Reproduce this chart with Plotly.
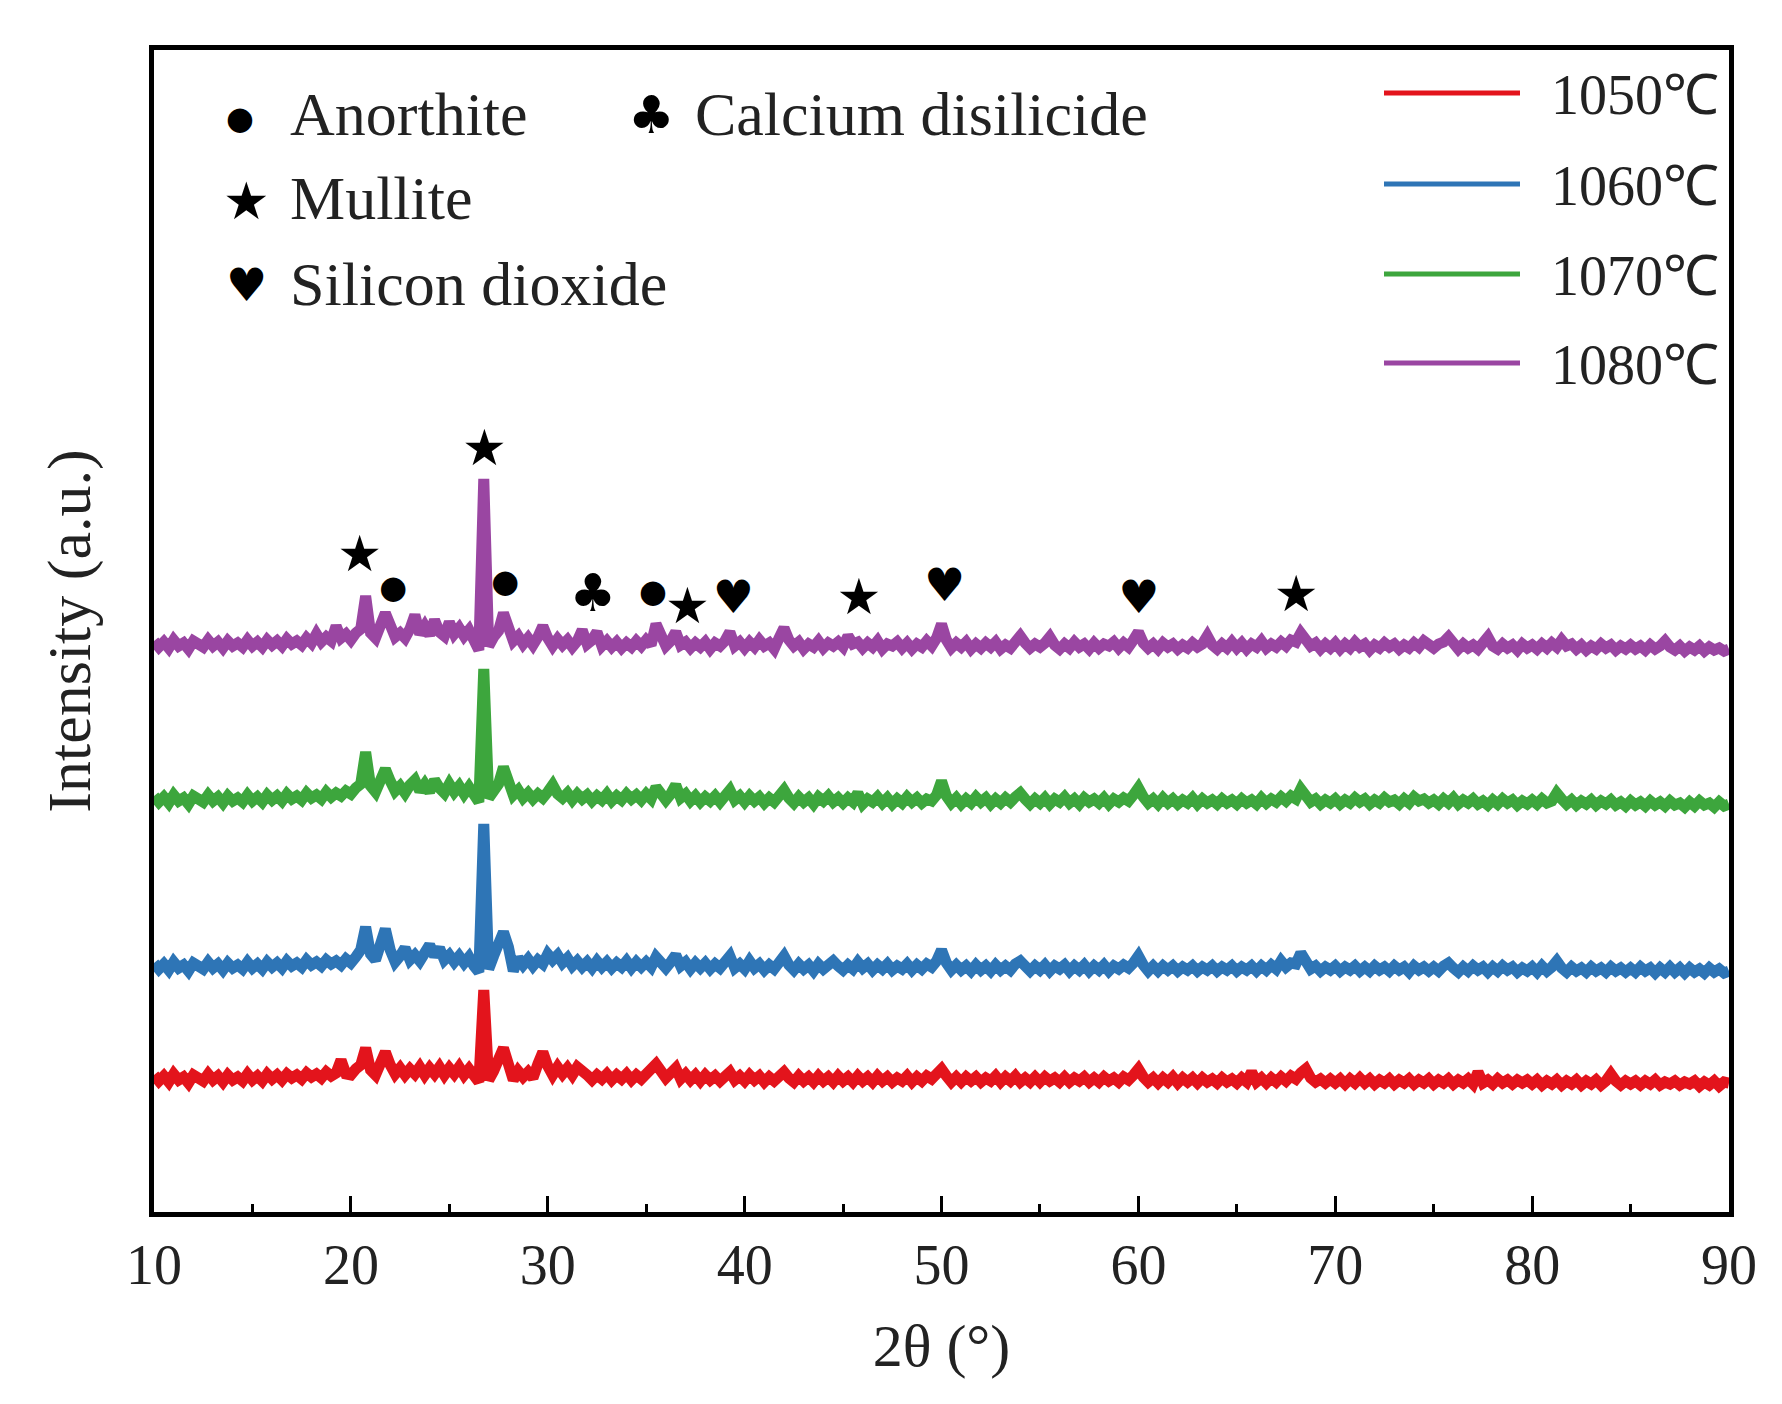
import numpy as np
import plotly.graph_objects as go

# 2-theta scan grid (0.25 deg step, 10..90)
two_theta = np.arange(10.0, 90.0001, 0.25)

series_names = ["1050℃", "1060℃", "1070℃", "1080℃"]
series_colors = ["#e3141c", "#2e75b6", "#3da63d", "#9a46a2"]

i_1050 = [
    137, 131, 136, 130, 138, 132, 135, 129, 137, 133, 131, 138, 132, 136, 130, 137, 132, 135, 131, 138,
    132, 136, 131, 138, 133, 137, 132, 138, 134, 137, 133, 139, 135, 138, 134, 140, 136, 139, 152, 138,
    137, 143, 147, 164, 142, 137, 146, 160, 147, 138, 144, 137, 143, 138, 145, 137, 144, 138, 145, 137,
    144, 138, 145, 137, 143, 137, 130, 222, 132, 141, 150, 164, 148, 132, 141, 135, 140, 134, 148, 160,
    146, 137, 145, 138, 144, 137, 145, 139, 137, 132, 137, 133, 138, 132, 137, 133, 138, 132, 137, 133,
    138, 140, 148, 141, 134, 139, 144, 133, 138, 132, 137, 131, 137, 132, 136, 131, 136, 140, 132, 136,
    131, 137, 132, 136, 130, 135, 131, 137, 140, 134, 130, 136, 131, 135, 130, 136, 131, 135, 130, 136,
    131, 135, 130, 136, 131, 135, 130, 136, 131, 135, 130, 134, 131, 136, 130, 135, 131, 136, 133, 138,
    143, 136, 130, 135, 130, 135, 131, 135, 130, 134, 131, 136, 130, 135, 131, 136, 130, 134, 130, 135,
    130, 135, 131, 134, 130, 135, 130, 134, 131, 135, 130, 134, 130, 135, 131, 134, 130, 135, 132, 137,
    143, 135, 130, 134, 129, 134, 130, 135, 129, 134, 130, 134, 129, 134, 130, 133, 129, 134, 130, 133,
    129, 134, 130, 140, 130, 134, 129, 134, 130, 135, 131, 136, 133, 139, 143, 134, 130, 133, 129, 133,
    129, 133, 128, 133, 129, 134, 129, 133, 128, 132, 129, 133, 128, 132, 129, 133, 128, 132, 129, 133,
    128, 132, 129, 133, 128, 132, 129, 133, 128, 140, 129, 132, 128, 133, 129, 132, 128, 132, 129, 132,
    128, 132, 127, 131, 128, 132, 127, 131, 128, 132, 127, 131, 128, 132, 127, 131, 138, 131, 127, 131,
    128, 131, 127, 131, 128, 132, 127, 130, 128, 131, 127, 130, 128, 131, 126, 130, 127, 131, 126, 130,
    129,
]

i_1060 = [
    249, 243, 248, 242, 250, 244, 247, 241, 249, 245, 243, 250, 244, 248, 242, 249, 244, 247, 243, 250,
    244, 248, 243, 250, 245, 249, 244, 251, 246, 249, 245, 252, 247, 250, 246, 252, 248, 251, 247, 253,
    249, 255, 262, 285, 258, 252, 265, 283, 262, 250, 256, 264, 252, 257, 251, 258, 267, 256, 264, 252,
    257, 250, 256, 249, 255, 246, 240, 388, 243, 256, 268, 280, 265, 241, 254, 247, 253, 246, 252, 248,
    258, 252, 257, 249, 254, 246, 251, 245, 250, 244, 251, 245, 250, 244, 249, 245, 251, 244, 250, 245,
    250, 245, 255, 248, 244, 250, 257, 246, 250, 243, 249, 244, 249, 243, 248, 244, 249, 256, 244, 248,
    243, 251, 244, 248, 242, 247, 243, 249, 256, 247, 242, 248, 243, 247, 241, 248, 243, 247, 251, 246,
    242, 247, 243, 250, 244, 248, 242, 247, 243, 248, 242, 246, 243, 248, 242, 247, 243, 248, 245, 251,
    262, 249, 242, 247, 242, 246, 241, 247, 242, 246, 241, 247, 242, 246, 242, 248, 251, 246, 241, 246,
    242, 247, 241, 246, 243, 247, 241, 246, 242, 247, 241, 246, 242, 247, 241, 246, 243, 247, 244, 249,
    256, 247, 241, 246, 241, 246, 242, 246, 241, 245, 242, 246, 241, 245, 242, 246, 241, 245, 242, 246,
    241, 245, 242, 246, 241, 246, 242, 247, 243, 251, 245, 249, 248, 259, 249, 243, 246, 241, 245, 242,
    246, 241, 245, 242, 246, 241, 245, 241, 246, 242, 245, 241, 246, 242, 245, 240, 246, 242, 245, 241,
    245, 241, 246, 249, 244, 240, 245, 241, 246, 242, 245, 240, 245, 241, 246, 242, 245, 240, 244, 241,
    245, 240, 246, 241, 245, 251, 244, 240, 245, 241, 244, 240, 245, 241, 244, 240, 245, 241, 244, 240,
    244, 240, 245, 241, 244, 239, 244, 240, 245, 240, 244, 239, 244, 240, 243, 239, 244, 240, 243, 239,
    241,
]

i_1070 = [
    416, 410, 415, 409, 417, 411, 414, 408, 416, 412, 410, 417, 411, 415, 409, 416, 411, 414, 410, 417,
    411, 415, 410, 417, 412, 416, 411, 418, 413, 416, 412, 419, 414, 417, 413, 420, 415, 419, 416, 421,
    418, 424, 428, 460, 426, 420, 430, 443, 431, 421, 426, 419, 427, 432, 421, 428, 420, 432, 424, 419,
    428, 420, 426, 418, 425, 417, 410, 543, 414, 421, 428, 445, 427, 417, 422, 414, 419, 413, 418, 414,
    420, 427, 418, 414, 419, 412, 418, 413, 417, 411, 416, 412, 418, 411, 416, 412, 418, 413, 417, 412,
    418, 413, 425, 417, 412, 418, 427, 414, 418, 411, 416, 410, 415, 411, 416, 410, 415, 422, 412, 416,
    410, 416, 411, 415, 409, 414, 410, 416, 422, 414, 409, 415, 410, 414, 408, 415, 411, 416, 410, 414,
    409, 414, 410, 419, 408, 413, 410, 415, 409, 414, 408, 413, 409, 415, 410, 414, 409, 413, 411, 417,
    431, 416, 409, 414, 408, 413, 409, 415, 410, 414, 408, 413, 409, 414, 410, 415, 419, 413, 408, 413,
    409, 414, 408, 413, 410, 415, 409, 413, 408, 414, 410, 413, 409, 414, 408, 413, 410, 414, 411, 417,
    424, 415, 409, 413, 408, 414, 409, 413, 408, 412, 409, 414, 408, 413, 409, 412, 408, 413, 409, 412,
    408, 413, 409, 412, 408, 414, 409, 413, 410, 415, 411, 416, 413, 423, 415, 410, 413, 408, 412, 409,
    413, 408, 412, 409, 414, 410, 413, 408, 412, 409, 414, 410, 412, 408, 413, 409, 415, 411, 413, 409,
    412, 408, 413, 409, 414, 408, 412, 409, 413, 408, 411, 407, 412, 408, 413, 409, 412, 407, 411, 408,
    412, 408, 413, 409, 411, 419, 413, 408, 412, 407, 411, 408, 412, 407, 411, 408, 412, 407, 410, 406,
    411, 407, 410, 406, 411, 407, 410, 406, 411, 407, 409, 405, 410, 406, 411, 407, 409, 405, 410, 406,
    408,
]

i_1080 = [
    571, 565, 570, 564, 572, 566, 569, 563, 571, 567, 565, 572, 566, 570, 564, 571, 566, 569, 565, 572,
    566, 570, 565, 572, 567, 571, 566, 573, 568, 571, 567, 574, 569, 578, 570, 575, 571, 586, 574, 578,
    572, 579, 583, 616, 579, 574, 586, 599, 587, 575, 579, 574, 583, 597, 578, 586, 577, 592, 580, 576,
    590, 578, 584, 576, 582, 574, 562, 733, 566, 575, 581, 599, 580, 571, 576, 568, 574, 567, 575, 586,
    574, 566, 573, 567, 572, 565, 571, 582, 568, 572, 580, 566, 571, 565, 570, 564, 569, 565, 571, 566,
    572, 567, 588, 575, 566, 571, 580, 567, 570, 564, 569, 565, 570, 563, 569, 566, 571, 580, 566, 570,
    564, 570, 565, 572, 566, 569, 563, 574, 584, 572, 566, 570, 563, 568, 565, 571, 564, 569, 566, 570,
    565, 576, 568, 570, 564, 569, 565, 571, 563, 568, 566, 570, 564, 569, 563, 568, 565, 571, 566, 574,
    588, 572, 564, 569, 565, 570, 563, 568, 564, 569, 565, 570, 563, 567, 564, 570, 576, 569, 564, 568,
    565, 569, 575, 567, 563, 568, 564, 570, 565, 568, 563, 569, 564, 568, 566, 570, 564, 569, 565, 572,
    580, 569, 564, 568, 563, 569, 565, 568, 563, 567, 564, 569, 565, 568, 576, 567, 563, 568, 564, 570,
    564, 569, 563, 568, 565, 571, 564, 568, 565, 570, 566, 572, 570, 579, 571, 566, 569, 563, 568, 564,
    569, 563, 568, 564, 570, 565, 568, 562, 567, 564, 569, 565, 568, 563, 567, 564, 569, 565, 571, 566,
    564, 568, 570, 575, 567, 563, 568, 564, 567, 563, 569, 575, 566, 563, 568, 564, 567, 562, 568, 564,
    567, 563, 568, 564, 569, 565, 572, 566, 568, 563, 567, 562, 566, 563, 568, 564, 567, 562, 566, 563,
    567, 563, 566, 562, 567, 563, 566, 571, 565, 562, 566, 561, 565, 562, 566, 561, 565, 562, 564, 561,
    563,
]

series_values = [i_1050, i_1060, i_1070, i_1080]

# Phase markers above the peaks
marker_theta = [26.78, 20.45, 22.15, 27.84, 32.29, 35.35, 37.10, 39.43, 45.80, 50.16, 60.03, 68.02]
marker_intensity = [760, 654, 622, 628, 614, 618, 602, 611, 611, 623, 611, 614]
marker_glyph = ["★", "★", "●", "●", "♣", "●", "★", "♥", "★", "♥", "♥", "★"]

phase_glyphs = ["●", "♣", "★", "♥"]
phase_names = ["Anorthite", "Calcium disilicide", "Mullite", "Silicon dioxide"]

x_ticks = [10, 20, 30, 40, 50, 60, 70, 80, 90]

FONT = "Liberation Serif"
W, H = 1782, 1404
L, R, T, B = 146, 61, 42, 200
PW, PH = W - L - R, H - T - B


def px(xp):
    return (xp - L) / PW


def py(yp):
    return (H - B - yp) / PH


fig = go.Figure()
for name, color, vals in zip(series_names, series_colors, series_values):
    fig.add_trace(go.Scatter(
        x=two_theta[:len(vals)], y=vals, mode="lines", name=name,
        line=dict(color=color, width=11), showlegend=False,
    ))

glyph_sizes = {"★": 50, "●": 32, "♣": 52, "♥": 46}
fig.add_trace(go.Scatter(
    x=marker_theta, y=marker_intensity, mode="text", text=marker_glyph,
    textfont=dict(family="DejaVu Sans", color="black",
                  size=[glyph_sizes[g] for g in marker_glyph]),
    showlegend=False, hoverinfo="skip",
))

# Manual legend (long line samples) at the upper right
leg_rows = [85, 176, 266, 355]
for name, color, yy in zip(series_names, series_colors, leg_rows):
    fig.add_shape(type="line", xref="paper", yref="paper",
                  x0=px(1376), x1=px(1512), y0=py(yy), y1=py(yy),
                  line=dict(color=color, width=5))
    fig.add_annotation(xref="paper", yref="paper", x=px(1541), y=py(yy + 2),
                       text=name, showarrow=False, xanchor="left", yanchor="middle",
                       font=dict(family=FONT, size=56, color="#222"))

# Phase key at the upper left
key_pos = [(232, 110, 280, 106), (643, 107, 685, 106), (238, 193, 280, 190), (238, 277, 280, 276)]
key_sizes = [32, 52, 52, 46]
for g, nm, (gx, gy, tx, ty), gs in zip(phase_glyphs, phase_names, key_pos, key_sizes):
    fig.add_annotation(xref="paper", yref="paper", x=px(gx), y=py(gy), text=g,
                       showarrow=False, xanchor="center", yanchor="middle",
                       font=dict(family="DejaVu Sans", size=gs, color="black"))
    fig.add_annotation(xref="paper", yref="paper", x=px(tx), y=py(ty), text=nm,
                       showarrow=False, xanchor="left", yanchor="middle",
                       font=dict(family=FONT, size=62, color="#222"))

fig.update_layout(
    width=W, height=H,
    margin=dict(l=L, r=R, t=T, b=B, pad=0),
    paper_bgcolor="white", plot_bgcolor="white",
    font=dict(family=FONT, color="#222"),
    xaxis=dict(
        range=[10, 90], tickvals=x_ticks, ticks="inside", ticklen=16, tickwidth=3,
        tickcolor="black", showline=True, linewidth=5, linecolor="black", mirror=True,
        showgrid=False, zeroline=False,
        tickfont=dict(family=FONT, size=56, color="#222"),
        ticklabelstandoff=0,
        minor=dict(ticks="inside", dtick=5, ticklen=8, tickwidth=3, tickcolor="black", showgrid=False),
        title=dict(text="2θ (°)", font=dict(family=FONT, size=60, color="#222"), standoff=30),
    ),
    yaxis=dict(
        range=[0, PH], showticklabels=False, ticks="", showgrid=False, zeroline=False,
        showline=True, linewidth=5, linecolor="black", mirror=True,
        title=dict(text="Intensity (a.u.)", font=dict(family=FONT, size=62, color="#222"), standoff=40),
    ),
)

fig.write_html("out.html")
